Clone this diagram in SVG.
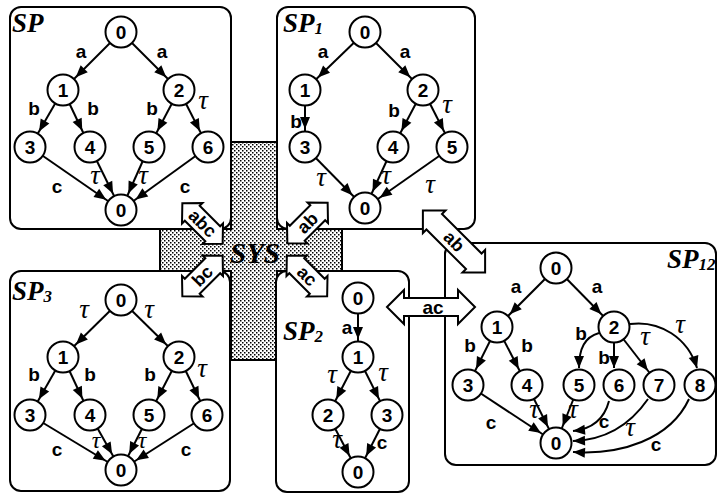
<svg xmlns="http://www.w3.org/2000/svg" width="717" height="494" viewBox="0 0 717 494">
<defs>
<style>
.pn{fill:#fff;stroke:#000;stroke-width:2}
.nd circle{fill:#fff;stroke:#000;stroke-width:2}
.nd text{font-family:"Liberation Sans",Arial,sans-serif;font-weight:bold;font-size:19px;text-anchor:middle}
.e{fill:none;stroke:#000;stroke-width:2;marker-end:url(#ah)}
.ec{fill:none;stroke:#000;stroke-width:2;marker-end:url(#ah0)}
.lb{font-family:"Liberation Sans",Arial,sans-serif;font-weight:bold;font-size:19px;text-anchor:middle}
.tau{font-family:"Liberation Serif","Times New Roman",serif;font-style:italic;font-size:27px;text-anchor:middle}
.tsm{font-size:24px}
.ttl{font-family:"Liberation Serif","Times New Roman",serif;font-weight:bold;font-style:italic;font-size:27px}
.sub{font-size:17px}
.fa{fill:#fff;stroke:#000;stroke-width:2}
.fat{font-family:"Liberation Sans",Arial,sans-serif;font-weight:bold;font-size:18px;text-anchor:middle}
.sys{fill:url(#dots);stroke:#000;stroke-width:2}
</style>
<pattern id="dots" width="4" height="4" patternUnits="userSpaceOnUse">
<rect width="4" height="4" fill="#fff"/>
<rect x="0" y="0" width="1.5" height="1.5" fill="#000"/>
<rect x="2" y="2" width="1.5" height="1.5" fill="#000"/>
</pattern>
<marker id="ah" markerUnits="userSpaceOnUse" markerWidth="40" markerHeight="20" viewBox="-32 -10 40 20" refX="0" refY="0" orient="auto" overflow="visible"><path d="M-18,0 L-30,-5 L-30,5 Z" fill="#000"/></marker>
<marker id="ah0" markerUnits="userSpaceOnUse" markerWidth="20" markerHeight="20" viewBox="-15 -10 20 20" refX="0" refY="0" orient="auto" overflow="visible"><path d="M0,0 L-12,-5 L-12,5 Z" fill="#000"/></marker>
<path id="fa57" d="M-28.5,0 L-14.5,-14.5 L-14.5,-10.5 L14.5,-10.5 L14.5,-14.5 L28.5,0 L14.5,14.5 L14.5,10.5 L-14.5,10.5 L-14.5,14.5 Z"/>
</defs>

<g id="SYS">
<path class="sys" d="M231,142 L277,142 L277,229 L342,229 L342,271 L277,271 L277,360 L231,360 L231,271 L160,271 L160,229 L231,229 Z"/>
<text x="255" y="263" class="ttl" text-anchor="middle" style="font-size:29px">SYS</text>
</g>

<g id="panel-SP"><rect class="pn" x="10" y="7" width="221" height="222" rx="11"/><text class="ttl" x="12" y="32">SP</text></g>
<g id="panel-SP1"><rect class="pn" x="277" y="7" width="198" height="222" rx="11"/><text class="ttl" x="283" y="32">SP<tspan class="sub" dy="2">1</tspan></text></g>
<g id="panel-SP3"><rect class="pn" x="10" y="271" width="220" height="220" rx="11"/><text class="ttl" x="12" y="300">SP<tspan class="sub" dy="2">3</tspan></text></g>
<g id="panel-SP2"><rect class="pn" x="276" y="271" width="133" height="221" rx="11"/><text class="ttl" x="283" y="340">SP<tspan class="sub" dy="2">2</tspan></text></g>
<g id="panel-SP12"><rect class="pn" x="445" y="243" width="271" height="222" rx="11"/><text class="ttl" x="667" y="268">SP<tspan class="sub" dy="2">12</tspan></text></g>

<g id="connectors">
<!-- SP -->
<line class="e" x1="121" y1="32" x2="63" y2="90"/>
<line class="e" x1="121" y1="32" x2="179" y2="90"/>
<line class="e" x1="63" y1="90" x2="30" y2="147"/>
<line class="e" x1="63" y1="90" x2="90" y2="147"/>
<line class="e" x1="179" y1="90" x2="149" y2="147"/>
<line class="e" x1="179" y1="90" x2="208" y2="147"/>
<line class="e" x1="30" y1="147" x2="121" y2="210"/>
<line class="e" x1="90" y1="147" x2="121" y2="210"/>
<line class="e" x1="149" y1="147" x2="121" y2="210"/>
<line class="e" x1="208" y1="147" x2="121" y2="210"/>
<text class="lb" x="81" y="58">a</text>
<text class="lb" x="162" y="58">a</text>
<text class="lb" x="34" y="115">b</text>
<text class="lb" x="93" y="115">b</text>
<text class="lb" x="152" y="115">b</text>
<text class="tau" x="203" y="109">τ</text>
<text class="lb" x="57" y="193">c</text>
<text class="tau" x="95" y="184">τ</text>
<text class="tau" x="143" y="184">τ</text>
<text class="lb" x="185" y="193">c</text>
<!-- SP1 -->
<line class="e" x1="365" y1="32" x2="305" y2="90"/>
<line class="e" x1="365" y1="32" x2="423" y2="90"/>
<line class="e" x1="305" y1="90" x2="305" y2="147"/>
<line class="e" x1="423" y1="90" x2="393" y2="147"/>
<line class="e" x1="423" y1="90" x2="452" y2="147"/>
<line class="e" x1="305" y1="147" x2="365" y2="208"/>
<line class="e" x1="393" y1="147" x2="365" y2="208"/>
<line class="e" x1="452" y1="147" x2="365" y2="208"/>
<text class="lb" x="323" y="58">a</text>
<text class="lb" x="405" y="58">a</text>
<text class="lb" x="296" y="128">b</text>
<text class="lb" x="394" y="117">b</text>
<text class="tau" x="447" y="113">τ</text>
<text class="tau" x="321" y="186">τ</text>
<text class="tau" x="386" y="184">τ</text>
<text class="tau" x="430" y="193">τ</text>
<!-- SP3 -->
<line class="e" x1="121" y1="300" x2="63" y2="357"/>
<line class="e" x1="121" y1="300" x2="179" y2="357"/>
<line class="e" x1="63" y1="357" x2="30" y2="415"/>
<line class="e" x1="63" y1="357" x2="90" y2="415"/>
<line class="e" x1="179" y1="357" x2="149" y2="415"/>
<line class="e" x1="179" y1="357" x2="207" y2="415"/>
<line class="e" x1="30" y1="415" x2="121" y2="470"/>
<line class="e" x1="90" y1="415" x2="121" y2="470"/>
<line class="e" x1="149" y1="415" x2="121" y2="470"/>
<line class="e" x1="207" y1="415" x2="121" y2="470"/>
<text class="tau" x="84" y="318">τ</text>
<text class="tau" x="149" y="318">τ</text>
<text class="lb" x="34" y="381">b</text>
<text class="lb" x="90" y="381">b</text>
<text class="lb" x="150" y="381">b</text>
<text class="tau" x="202" y="377">τ</text>
<text class="tau tsm" x="96" y="448">τ</text>
<text class="tau tsm" x="142" y="448">τ</text>
<text class="lb" x="57" y="456">c</text>
<text class="lb" x="186" y="456">c</text>
<!-- SP2 -->
<line class="e" x1="358" y1="298" x2="358" y2="357"/>
<line class="e" x1="358" y1="357" x2="328" y2="415"/>
<line class="e" x1="358" y1="357" x2="387" y2="415"/>
<line class="e" x1="328" y1="415" x2="358" y2="472"/>
<line class="e" x1="387" y1="415" x2="358" y2="472"/>
<text class="lb" x="347" y="334">a</text>
<text class="tau" x="332" y="383">τ</text>
<text class="tau" x="383" y="381">τ</text>
<text class="tau" x="337" y="448">τ</text>
<text class="lb" x="382" y="449">c</text>
<!-- SP12 -->
<line class="e" x1="556" y1="268" x2="497" y2="327"/>
<line class="e" x1="556" y1="268" x2="614" y2="327"/>
<line class="e" x1="497" y1="327" x2="468" y2="385"/>
<line class="e" x1="497" y1="327" x2="527" y2="385"/>
<line class="e" x1="614" y1="327" x2="659" y2="385"/>
<line class="e" x1="468" y1="385" x2="556" y2="443"/>
<line class="e" x1="527" y1="385" x2="556" y2="443"/>
<line class="e" x1="579" y1="385" x2="556" y2="443"/>
<path class="ec" d="M599,333 C585,337 579,348 579,368"/>
<path class="ec" d="M614,343 L614,368"/>
<path class="ec" d="M630,324 C660,320 688,338 697,368"/>
<path class="ec" d="M609,401 C604,420 592,429 573,431"/>
<path class="ec" d="M648,399 C630,425 605,440 573,441"/>
<path class="ec" d="M689,399 C670,440 620,455 573,452"/>
<text class="lb" x="516" y="293">a</text>
<text class="lb" x="597" y="293">a</text>
<text class="lb" x="470" y="352">b</text>
<text class="lb" x="527" y="352">b</text>
<text class="lb" x="581" y="340">b</text>
<text class="lb" x="604" y="364">b</text>
<text class="tau" x="645" y="345">τ</text>
<text class="tau" x="680" y="333">τ</text>
<text class="tau" x="534" y="418">τ</text>
<text class="tau" x="573" y="418">τ</text>
<text class="lb" x="491" y="429">c</text>
<text class="lb" x="604" y="428">c</text>
<text class="tau" x="630" y="436">τ</text>
<text class="lb" x="656" y="451">c</text>
</g>

<g id="nodes-SP">
<g id="SP-0" class="nd"><circle cx="121" cy="32" r="15.5"/><text x="121" y="39">0</text></g>
<g id="SP-1" class="nd"><circle cx="63" cy="90" r="15.5"/><text x="63" y="97">1</text></g>
<g id="SP-2" class="nd"><circle cx="179" cy="90" r="15.5"/><text x="179" y="97">2</text></g>
<g id="SP-3" class="nd"><circle cx="30" cy="147" r="15.5"/><text x="30" y="154">3</text></g>
<g id="SP-4" class="nd"><circle cx="90" cy="147" r="15.5"/><text x="90" y="154">4</text></g>
<g id="SP-5" class="nd"><circle cx="149" cy="147" r="15.5"/><text x="149" y="154">5</text></g>
<g id="SP-6" class="nd"><circle cx="208" cy="147" r="15.5"/><text x="208" y="154">6</text></g>
<g id="SP-0b" class="nd"><circle cx="121" cy="210" r="15.5"/><text x="121" y="217">0</text></g>
</g>
<g id="nodes-SP1">
<g id="SP1-0" class="nd"><circle cx="365" cy="32" r="15.5"/><text x="365" y="39">0</text></g>
<g id="SP1-1" class="nd"><circle cx="305" cy="90" r="15.5"/><text x="305" y="97">1</text></g>
<g id="SP1-2" class="nd"><circle cx="423" cy="90" r="15.5"/><text x="423" y="97">2</text></g>
<g id="SP1-3" class="nd"><circle cx="305" cy="147" r="15.5"/><text x="305" y="154">3</text></g>
<g id="SP1-4" class="nd"><circle cx="393" cy="147" r="15.5"/><text x="393" y="154">4</text></g>
<g id="SP1-5" class="nd"><circle cx="452" cy="147" r="15.5"/><text x="452" y="154">5</text></g>
<g id="SP1-0b" class="nd"><circle cx="365" cy="208" r="15.5"/><text x="365" y="215">0</text></g>
</g>
<g id="nodes-SP3">
<g id="SP3-0" class="nd"><circle cx="121" cy="300" r="15.5"/><text x="121" y="307">0</text></g>
<g id="SP3-1" class="nd"><circle cx="63" cy="357" r="15.5"/><text x="63" y="364">1</text></g>
<g id="SP3-2" class="nd"><circle cx="179" cy="357" r="15.5"/><text x="179" y="364">2</text></g>
<g id="SP3-3" class="nd"><circle cx="30" cy="415" r="15.5"/><text x="30" y="422">3</text></g>
<g id="SP3-4" class="nd"><circle cx="90" cy="415" r="15.5"/><text x="90" y="422">4</text></g>
<g id="SP3-5" class="nd"><circle cx="149" cy="415" r="15.5"/><text x="149" y="422">5</text></g>
<g id="SP3-6" class="nd"><circle cx="207" cy="415" r="15.5"/><text x="207" y="422">6</text></g>
<g id="SP3-0b" class="nd"><circle cx="121" cy="470" r="15.5"/><text x="121" y="477">0</text></g>
</g>
<g id="nodes-SP2">
<g id="SP2-0" class="nd"><circle cx="358" cy="298" r="15.5"/><text x="358" y="305">0</text></g>
<g id="SP2-1" class="nd"><circle cx="358" cy="357" r="15.5"/><text x="358" y="364">1</text></g>
<g id="SP2-2" class="nd"><circle cx="328" cy="415" r="15.5"/><text x="328" y="422">2</text></g>
<g id="SP2-3" class="nd"><circle cx="387" cy="415" r="15.5"/><text x="387" y="422">3</text></g>
<g id="SP2-0b" class="nd"><circle cx="358" cy="472" r="15.5"/><text x="358" y="479">0</text></g>
</g>
<g id="nodes-SP12">
<g id="SP12-0" class="nd"><circle cx="556" cy="268" r="15.5"/><text x="556" y="275">0</text></g>
<g id="SP12-1" class="nd"><circle cx="497" cy="327" r="15.5"/><text x="497" y="334">1</text></g>
<g id="SP12-2" class="nd"><circle cx="614" cy="327" r="15.5"/><text x="614" y="334">2</text></g>
<g id="SP12-3" class="nd"><circle cx="468" cy="385" r="15.5"/><text x="468" y="392">3</text></g>
<g id="SP12-4" class="nd"><circle cx="527" cy="385" r="15.5"/><text x="527" y="392">4</text></g>
<g id="SP12-5" class="nd"><circle cx="579" cy="385" r="15.5"/><text x="579" y="392">5</text></g>
<g id="SP12-6" class="nd"><circle cx="619" cy="385" r="15.5"/><text x="619" y="392">6</text></g>
<g id="SP12-7" class="nd"><circle cx="659" cy="385" r="15.5"/><text x="659" y="392">7</text></g>
<g id="SP12-8" class="nd"><circle cx="700" cy="385" r="15.5"/><text x="700" y="392">8</text></g>
<g id="SP12-0b" class="nd"><circle cx="556" cy="443" r="15.5"/><text x="556" y="450">0</text></g>
</g>

<g id="interfaces">
<g id="if-abc" transform="translate(202.5,223.5) rotate(45)"><use href="#fa57" class="fa"/><text class="fat" x="0" y="6">abc</text></g>
<g id="if-bc" transform="translate(202.5,276) rotate(-45)"><use href="#fa57" class="fa"/><text class="fat" x="0" y="6">bc</text></g>
<g id="if-ab" transform="translate(307.5,223) rotate(-45)"><use href="#fa57" class="fa"/><text class="fat" x="0" y="6">ab</text></g>
<g id="if-ac" transform="translate(307,276) rotate(45)"><use href="#fa57" class="fa"/><text class="fat" x="0" y="6">ac</text></g>
<g id="if-ab12" transform="translate(454,241.5) rotate(45)"><path class="fa" d="M-44,0 L-28,-16 L-28,-11 L28,-11 L28,-16 L44,0 L28,16 L28,11 L-28,11 L-28,16 Z"/><text class="fat" x="0" y="6">ab</text></g>
<g id="if-ac12" transform="translate(431,307)"><path class="fa" d="M-44,0 L-27,-17 L-27,-9 L27,-9 L27,-17 L44,0 L27,17 L27,9 L-27,9 L-27,17 Z"/><text class="fat" x="2" y="7" style="font-size:19px">ac</text></g>
</g>
</svg>
